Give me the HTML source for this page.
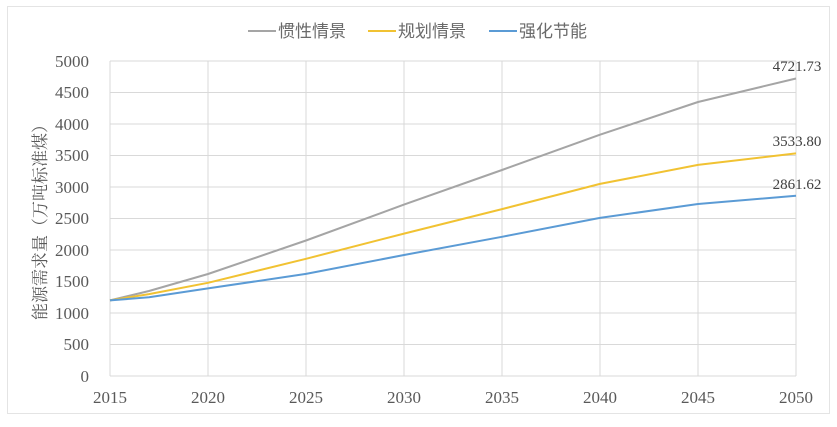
<!DOCTYPE html><html><head><meta charset="utf-8"><style>body{margin:0;background:#fff}</style></head><body>
<svg width="837" height="422" xmlns="http://www.w3.org/2000/svg" font-family="'Liberation Serif','Noto Serif CJK SC',serif" fill="#595959">
<rect x="0" y="0" width="837" height="422" fill="#fff"/>
<rect x="7.5" y="6.5" width="822" height="407" fill="none" stroke="#e4e4e4"/>
<g stroke="#d9d9d9" stroke-width="1">
<line x1="110" y1="61" x2="796" y2="61"/><line x1="110" y1="92.5" x2="796" y2="92.5"/><line x1="110" y1="124" x2="796" y2="124"/><line x1="110" y1="155.5" x2="796" y2="155.5"/><line x1="110" y1="187" x2="796" y2="187"/><line x1="110" y1="218.5" x2="796" y2="218.5"/><line x1="110" y1="250" x2="796" y2="250"/><line x1="110" y1="281.5" x2="796" y2="281.5"/><line x1="110" y1="313" x2="796" y2="313"/><line x1="110" y1="344.5" x2="796" y2="344.5"/><line x1="110" y1="376" x2="796" y2="376"/>
<line x1="110" y1="61" x2="110" y2="376"/><line x1="208" y1="61" x2="208" y2="376"/><line x1="306" y1="61" x2="306" y2="376"/><line x1="404" y1="61" x2="404" y2="376"/><line x1="502" y1="61" x2="502" y2="376"/><line x1="600" y1="61" x2="600" y2="376"/><line x1="698" y1="61" x2="698" y2="376"/><line x1="796" y1="61" x2="796" y2="376"/>
</g>
<g font-size="17" text-anchor="end">
<text x="89" y="67">5000</text><text x="89" y="98">4500</text><text x="89" y="130">4000</text><text x="89" y="161">3500</text><text x="89" y="193">3000</text><text x="89" y="224">2500</text><text x="89" y="256">2000</text><text x="89" y="287">1500</text><text x="89" y="319">1000</text><text x="89" y="350">500</text><text x="89" y="382">0</text>
</g>
<g font-size="17" text-anchor="middle">
<text x="110" y="403">2015</text><text x="208" y="403">2020</text><text x="306" y="403">2025</text><text x="404" y="403">2030</text><text x="502" y="403">2035</text><text x="600" y="403">2040</text><text x="698" y="403">2045</text><text x="796" y="403">2050</text>
</g>
<text transform="translate(46,218) rotate(-90)" font-size="17" text-anchor="middle">能源需求量（万吨标准煤）</text>
<g fill="none" stroke-width="2" stroke-linejoin="round">
<polyline stroke="#a5a5a5" points="110,300.4 149,291 208,274 306,240.5 404,204.6 502,170 600,134.7 698,102 796,78.5"/>
<polyline stroke="#f1c232" points="110,300.4 149,294.1 208,282.8 306,258.8 404,233.6 502,209.1 600,183.9 698,164.9 796,153.4"/>
<polyline stroke="#5b9bd5" points="110,300.4 149,297.3 208,288.4 306,273.9 404,255 502,236.8 600,217.9 698,204 796,195.7"/>
</g>
<g font-size="15" text-anchor="middle" fill="#404040">
<text x="797" y="71">4721.73</text><text x="797" y="146">3533.80</text><text x="797" y="189">2861.62</text>
</g>
<g font-family="'Liberation Sans','Noto Sans CJK SC',sans-serif" font-size="17" fill="#6a6a6a">
<line x1="248" y1="31" x2="276" y2="31" stroke="#a5a5a5" stroke-width="2"/><text x="278" y="37">惯性情景</text>
<line x1="368" y1="31" x2="396" y2="31" stroke="#f1c232" stroke-width="2"/><text x="398" y="37">规划情景</text>
<line x1="489" y1="31" x2="517" y2="31" stroke="#5b9bd5" stroke-width="2"/><text x="519" y="37">强化节能</text>
</g>
</svg>
</body></html>
